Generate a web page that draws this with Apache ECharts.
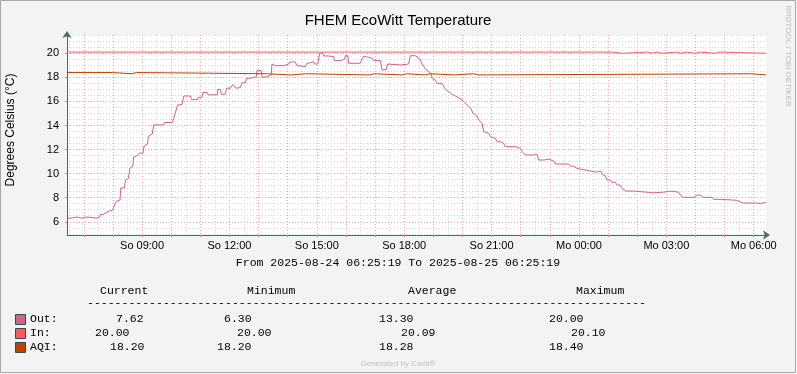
<!DOCTYPE html>
<html><head><meta charset="utf-8">
<script src="https://cdn.jsdelivr.net/npm/echarts@6/dist/echarts.min.js"></script>
<style>html,body{margin:0;padding:0;background:#F3F3F3;}#c{width:797px;height:374px;}</style>
</head><body><div id="c"></div>
<script>
// ---- data (hours since 2025-08-24 00:00, °C) ----
const outData = [
[6.42,6.3],[6.58,6.3],[6.60,6.4],[6.76,6.4],[6.78,6.3],[6.92,6.3],[6.94,6.4],[7.10,6.4],[7.12,6.3],[7.44,6.3],[7.46,6.4],[7.55,6.4],[7.57,6.6],[7.66,6.6],[7.68,6.75],[7.75,6.75],[7.77,6.9],[7.89,6.9],[7.91,7.0],[8.00,7.0],[8.02,7.2],[8.08,7.2],[8.12,7.7],[8.17,7.8],[8.24,7.8],[8.27,8.8],[8.39,8.8],[8.43,9.45],[8.53,9.6],[8.58,10.45],[8.68,10.6],[8.71,11.4],[8.84,11.5],[8.90,11.7],[9.03,11.7],[9.07,12.3],[9.18,12.45],[9.22,13.1],[9.35,13.3],[9.40,14.05],[9.74,14.05],[9.77,14.25],[10.03,14.25],[10.09,14.6],[10.14,15.05],[10.20,15.1],[10.22,15.7],[10.37,15.75],[10.43,16.45],[10.66,16.45],[10.70,16.15],[10.91,16.15],[10.93,16.35],[11.06,16.35],[11.09,16.75],[11.23,16.75],[11.27,16.55],[11.58,16.55],[11.60,17.0],[11.69,17.0],[11.72,16.6],[11.86,16.6],[11.90,17.1],[12.03,17.1],[12.12,17.4],[12.18,17.4],[12.22,17.1],[12.38,17.15],[12.43,17.55],[12.55,17.55],[12.58,17.9],[12.66,17.9],[12.72,18.05],[12.92,18.05],[12.95,18.6],[13.09,18.55],[13.12,18.0],[13.28,18.05],[13.31,18.2],[13.43,18.2],[13.46,19.1],[13.58,18.97],[13.86,18.97],[13.92,19.1],[14.03,19.1],[14.07,19.28],[14.26,19.28],[14.32,18.97],[14.44,18.95],[14.46,18.89],[14.61,18.89],[14.66,19.17],[14.76,19.2],[14.78,19.3],[14.88,19.3],[14.92,19.11],[15.03,19.11],[15.10,20.0],[15.21,20.0],[15.23,19.78],[15.39,19.78],[15.41,19.72],[15.58,19.72],[15.60,19.39],[15.81,19.39],[15.87,19.5],[15.95,19.5],[15.98,19.8],[16.06,19.8],[16.09,19.17],[16.49,19.17],[16.59,19.72],[16.70,19.72],[16.72,19.58],[16.90,19.58],[16.95,19.39],[17.18,19.39],[17.24,18.61],[17.38,18.65],[17.43,19.11],[17.46,19.03],[17.87,19.03],[17.93,19.11],[18.15,19.11],[18.21,19.8],[18.38,19.8],[18.44,19.67],[18.55,19.5],[18.61,19.1],[18.67,19.05],[18.76,18.6],[18.84,18.5],[18.92,18.3],[18.96,17.9],[19.07,17.78],[19.13,17.5],[19.30,17.5],[19.35,17.36],[19.41,17.0],[19.53,16.81],[19.64,16.59],[19.81,16.39],[19.99,16.12],[20.04,15.98],[20.16,15.7],[20.29,15.43],[20.36,15.01],[20.50,14.79],[20.56,14.46],[20.67,14.18],[20.73,13.48],[20.90,13.35],[20.96,13.07],[21.13,12.93],[21.19,12.65],[21.30,12.65],[21.36,12.52],[21.41,12.52],[21.47,12.24],[21.82,12.24],[21.87,12.1],[21.99,12.1],[22.05,11.82],[22.10,11.82],[22.16,11.55],[22.27,11.55],[22.33,11.4],[22.44,11.55],[22.56,11.6],[22.62,11.13],[22.79,11.13],[22.85,11.2],[22.96,11.2],[23.02,11.05],[23.13,11.05],[23.19,10.8],[23.65,10.8],[23.70,10.63],[23.82,10.63],[23.93,10.44],[24.05,10.38],[24.10,10.22],[24.39,10.22],[24.45,10.13],[24.58,10.13],[24.64,10.22],[24.75,10.22],[24.79,9.94],[24.91,9.8],[24.96,9.47],[25.08,9.47],[25.13,9.28],[25.25,9.28],[25.31,9.05],[25.42,9.05],[25.48,8.78],[25.54,8.75],[25.59,8.55],[25.88,8.55],[25.93,8.41],[26.56,8.41],[26.62,8.47],[26.96,8.47],[27.08,8.53],[27.25,8.53],[27.31,8.45],[27.42,8.45],[27.48,8.22],[27.59,8.03],[27.94,8.03],[27.99,7.98],[28.05,8.22],[28.17,8.2],[28.22,8.15],[28.28,8.03],[28.57,8.03],[28.62,7.86],[28.91,7.86],[28.97,7.78],[29.43,7.78],[29.54,7.64],[29.65,7.56],[30.11,7.56],[30.23,7.5],[30.28,7.56],[30.42,7.62]
];
const inData = [
[6.42,20.1],[25.13,20.1],[25.17,20.0],[25.48,20.0],[25.51,20.1],[26.34,20.1],[26.36,20.0],[26.47,20.0],[26.51,20.1],[26.68,20.1],[26.70,20.0],[26.85,20.0],[26.87,20.1],[27.34,20.1],[27.37,20.0],[27.50,20.0],[27.54,20.1],[27.69,20.1],[27.71,20.0],[27.99,20.0],[28.03,20.1],[28.17,20.1],[28.19,20.0],[28.68,20.0],[28.70,20.1],[28.83,20.1],[28.85,20.0],[30.42,20.0]
];
const aqiData = [
[6.42,18.4],[7.98,18.4],[8.02,18.3],[8.65,18.3],[8.69,18.4],[8.81,18.4],[8.85,18.3],[13.30,18.3],[13.36,18.2],[14.12,18.2],[14.17,18.3],[14.62,18.3],[14.67,18.2],[16.80,18.2],[16.85,18.3],[16.97,18.3],[17.02,18.2],[17.93,18.2],[17.98,18.3],[18.08,18.3],[18.13,18.2],[18.72,18.2],[18.77,18.3],[18.90,18.3],[18.95,18.2],[19.72,18.2],[19.78,18.3],[20.38,18.3],[20.44,18.2],[20.56,18.2],[20.62,18.3],[29.92,18.3],[29.98,18.2],[30.42,18.2]
];
const seriesNames = ['Out', 'In', 'AQI'];
const seriesColors = ['#D2618C', '#FF5B5B', '#C04000'];
const yMajorTicks = [6, 8, 10, 12, 14, 16, 18, 20];
const yMinorTicks = [5, 5.5, 6.5, 7, 7.5, 8.5, 9, 9.5, 10.5, 11, 11.5, 12.5, 13, 13.5, 14.5, 15, 15.5, 16.5, 17, 17.5, 18.5, 19, 19.5, 20.5, 21, 21.5];
const xLabelHours = [9, 12, 15, 18, 21, 24, 27, 30];
const xMajorHours = [7, 8, 9, 10, 11, 12, 13, 14, 15, 16, 17, 18, 19, 20, 21, 22, 23, 24, 25, 26, 27, 28, 29, 30];
const xMinorHours = [6.5, 7.5, 8.5, 9.5, 10.5, 11.5, 12.5, 13.5, 14.5, 15.5, 16.5, 17.5, 18.5, 19.5, 20.5, 21.5, 22.5, 23.5, 24.5, 25.5, 26.5, 27.5, 28.5, 29.5];
const legendHeaders = ['Current', 'Minimum', 'Average', 'Maximum'];
const legendStats = [
  ['7.62', '6.30', '13.30', '20.00'],
  ['20.00', '20.00', '20.09', '20.10'],
  ['18.20', '18.20', '18.28', '18.40']
];
const xStart = 6 + 25/60 + 19/3600, xEnd = xStart + 24;
const yMin = 4.9, yMax = 21.52;

// ---- layout ----
const mono = '11.5px "Liberation Mono"';
const headerX = [100, 247, 408, 576];
const statX = [[116, 224, 379, 549], [95, 237, 401, 571], [110, 217, 379, 549]];
const rowY = [319, 333, 347];
const graphic = [];
graphic.push({type:'rect', silent:true, shape:{x:0.5,y:0.5,width:795,height:372}, style:{fill:'none', stroke:'#A8A8A8', lineWidth:1}});
graphic.push({type:'text', x:398, y:21, style:{text:'FHEM EcoWitt Temperature', font:'15px "Liberation Sans"', fill:'#000', textAlign:'center', textVerticalAlign:'middle'}});
graphic.push({type:'text', x:11, y:130, rotation:Math.PI/2, style:{text:'Degrees Celsius (°C)', font:'12px "Liberation Sans"', fill:'#000', textAlign:'center', textVerticalAlign:'middle'}});
graphic.push({type:'text', x:788.5, y:56, rotation:-Math.PI/2, style:{text:'RRDTOOL / TOBI OETIKER', font:'8px "Liberation Sans"', fill:'#BDBDBD', textAlign:'center', textVerticalAlign:'middle'}});
graphic.push({type:'text', x:398, y:263, style:{text:'From 2025-08-24 06:25:19 To 2025-08-25 06:25:19', font:mono, fill:'#000', textAlign:'center', textVerticalAlign:'middle'}});
legendHeaders.forEach((h,i)=>graphic.push({type:'text', x:headerX[i], y:291, style:{text:h, font:mono, fill:'#000', textAlign:'left', textVerticalAlign:'middle'}}));
graphic.push({type:'text', x:87, y:303, style:{text:'-'.repeat(81), font:mono, fill:'#000', textAlign:'left', textVerticalAlign:'middle'}});
seriesNames.forEach((n,r)=>{
  graphic.push({type:'rect', shape:{x:15.5, y:rowY[r]-4.5, width:10, height:10}, style:{fill:seriesColors[r], stroke:'#2F4F4F', lineWidth:1}});
  graphic.push({type:'text', x:30, y:rowY[r], style:{text:n+':', font:mono, fill:'#000', textAlign:'left', textVerticalAlign:'middle'}});
  legendStats[r].forEach((s,i)=>graphic.push({type:'text', x:statX[r][i], y:rowY[r], style:{text:s, font:mono, fill:'#000', textAlign:'left', textVerticalAlign:'middle'}}));
});
graphic.push({type:'text', x:398, y:364, style:{text:'Generated by Cacti®', font:'8px "Liberation Sans"', fill:'#C0C0C0', textAlign:'center', textVerticalAlign:'middle'}});

const axisColor = '#4A6A62';
const majorGrid = {show:true, lineStyle:{color:'#F0A0A0', width:1, type:[1,2]}};
const minorGrid = {show:true, lineStyle:{color:'#D6D6D6', width:1, type:[1,2]}};
const fmtX = v => { const h = Math.round(v); return (h < 24 ? 'So ' : 'Mo ') + String(h % 24).padStart(2,'0') + ':00'; };

const chart = echarts.init(document.getElementById('c'), null, {renderer:'canvas'});
chart.setOption({
  backgroundColor:'#F3F3F3',
  animation:false,
  textStyle:{fontFamily:'Liberation Sans'},
  grid:{left:67, right:31, top:35, bottom:139, show:true, backgroundColor:'#FFFFFF', borderWidth:0, containLabel:false},
  xAxis:[
    {type:'value', min:xStart, max:xEnd, position:'bottom',
     axisLine:{show:false},
     axisTick:{show:false, customValues:xMinorHours},
     axisLabel:{show:false},
     splitLine:minorGrid},
    {type:'value', min:xStart, max:xEnd, position:'bottom',
     axisLine:{show:true, onZero:false, lineStyle:{color:axisColor, width:1}, symbol:['none','arrow'], symbolSize:[7,7], symbolOffset:[0,4]},
     axisTick:{show:true, inside:false, length:2, customValues:xMajorHours, lineStyle:{color:'#E08080'}},
     axisLabel:{show:true, customValues:xLabelHours, formatter:fmtX, color:'#000', fontSize:11, fontFamily:'Liberation Sans', margin:5},
     splitLine:majorGrid}
  ],
  yAxis:[
    {type:'value', min:yMin, max:yMax, position:'left',
     axisLine:{show:false},
     axisTick:{show:false, customValues:yMinorTicks},
     axisLabel:{show:false},
     splitLine:minorGrid},
    {type:'value', min:yMin, max:yMax, position:'left',
     axisLine:{show:true, onZero:false, lineStyle:{color:axisColor, width:1}, symbol:['none','arrow'], symbolSize:[7,7], symbolOffset:[0,4]},
     axisTick:{show:true, length:2, customValues:yMajorTicks, lineStyle:{color:'#A0A0A0'}},
     axisLabel:{show:true, customValues:yMajorTicks, color:'#000', fontSize:11, fontFamily:'Liberation Sans', margin:8},
     splitLine:majorGrid}
  ],
  series:[
    {name:seriesNames[0], type:'line', xAxisIndex:1, yAxisIndex:1, data:outData, showSymbol:false, lineStyle:{color:seriesColors[0], width:1}, z:3},
    {name:seriesNames[1], type:'line', xAxisIndex:1, yAxisIndex:1, data:inData, showSymbol:false, lineStyle:{color:seriesColors[1], width:1}, z:4},
    {name:seriesNames[2], type:'line', xAxisIndex:1, yAxisIndex:1, data:aqiData, showSymbol:false, lineStyle:{color:seriesColors[2], width:1}, z:5}
  ],
  graphic:graphic
});
</script></body></html>
